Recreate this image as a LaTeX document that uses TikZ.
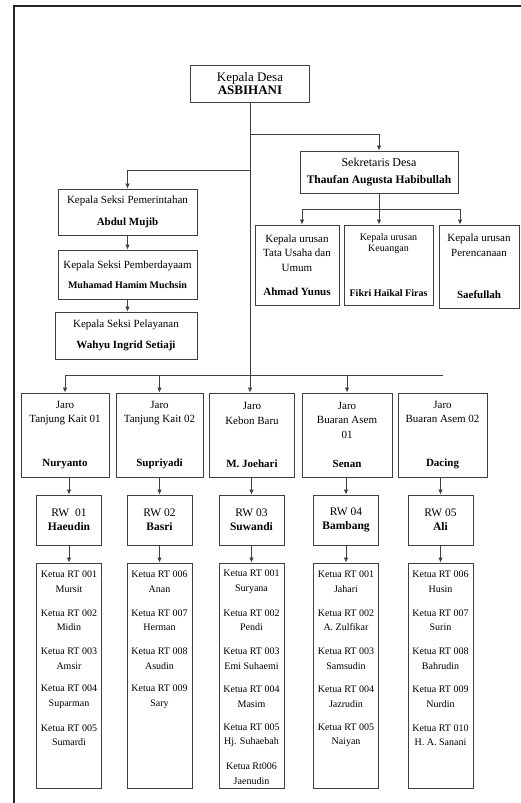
\documentclass[tikz,border=0pt]{standalone}
\usepackage{fontspec}
\setmainfont{Liberation Serif}
\usetikzlibrary{arrows.meta}
\tikzset{
  obox/.style  ={rectangle, draw=black!75, line width=0.9pt, fill=white, align=center,
                 inner sep=2pt, font=\fontsize{11}{14.5}\selectfont},
  kdbox/.style ={obox, minimum width=119pt, minimum height=37pt, font=\fontsize{13}{13.5}\selectfont},
  sdbox/.style ={obox, minimum width=158pt, minimum height=42pt, font=\fontsize{12}{17}\selectfont},
  ksbox/.style ={obox, minimum width=139pt, minimum height=46pt},
  kubox/.style ={obox, minimum height=80pt},
  jaro/.style  ={obox, minimum width=87pt, minimum height=84pt},
  rwbox/.style ={obox, minimum width=65pt, minimum height=50pt, font=\fontsize{11.5}{14}\selectfont},
  rtbox/.style ={obox, minimum width=65pt, minimum height=225pt},
  rtitem/.style={anchor=north, minimum height=38pt, inner sep=0pt, align=center,
                 font=\fontsize{10}{14.5}\selectfont},
  arr/.style   ={-{Latex[length=5pt,width=4.5pt]}, line width=0.8pt, draw=black!75},
  ln/.style    ={line width=0.8pt, draw=black!75},
}
\begin{document}
\begin{tikzpicture}[x=1pt, y=-1pt]
  \useasboundingbox (0,0) rectangle (520,803);
  \draw[line width=2.4pt, black!85] (530,6) -| (14,810);

  % pimpinan
  \node[kdbox] (kades)  at (250,83.5) {Kepala Desa\\\textbf{ASBIHANI}};
  \node[sdbox] (sekdes) at (379,172)  {Sekretaris Desa\\{\fontsize{11.5}{17}\selectfont\textbf{Thaufan Augusta Habibullah}}};

  % kepala urusan
  \node[kubox, minimum width=84pt] (ku1) at (297,265) {Kepala urusan\\Tata Usaha dan\\Umum\\[10pt]\textbf{Ahmad Yunus}};
  \node[kubox, minimum width=89pt, font=\fontsize{10}{11.5}\selectfont] (ku2) at (388.5,265) {Kepala urusan\\Keuangan\\[33pt]\textbf{Fikri Haikal Firas}};
  \node[kubox, minimum width=80pt, minimum height=83pt] (ku3) at (479,266.5) {Kepala urusan\\Perencanaan\\[28pt]\textbf{Saefullah}};

  % kepala seksi
  \node[ksbox] (seksi1) at (127.5,212) {Kepala Seksi Pemerintahan\\[7pt]\textbf{Abdul Mujib}};
  \node[ksbox, minimum height=49pt] (seksi2) at (127.5,274.5) {Kepala Seksi Pemberdayaam\\[6pt]{\fontsize{10}{14.5}\selectfont\textbf{Muhamad Hamim Muchsin}}};
  \node[ksbox, minimum width=142pt, minimum height=47pt] (seksi3) at (126,335.5) {Kepala Seksi Pelayanan\\[7pt]\textbf{Wahyu Ingrid Setiaji}};

  % jaro
  \node[jaro, minimum width=88pt] (jaro1) at (65,435)    {Jaro\\Tanjung Kait 01\\[29pt]\textbf{Nuryanto}};
  \node[jaro]                     (jaro2) at (159.5,435) {Jaro\\Tanjung Kait 02\\[29pt]\textbf{Supriyadi}};
  \node[jaro, minimum width=85pt] (jaro3) at (252,435)   {Jaro\\Kebon Baru\\[29pt]\textbf{M. Joehari}};
  \node[jaro, minimum width=90pt] (jaro4) at (347,435)   {Jaro\\Buaran Asem\\01\\[15pt]\textbf{Senan}};
  \node[jaro, minimum width=89pt] (jaro5) at (442.5,435) {Jaro\\Buaran Asem 02\\[29pt]\textbf{Dacing}};

  % rw
  \node[rwbox] (rw1) at (69,520)    {RW~~01\\\textbf{Haeudin}};
  \node[rwbox] (rw2) at (159.5,520) {RW 02\\\textbf{Basri}};
  \node[rwbox] (rw3) at (251.5,520) {RW 03\\\textbf{Suwandi}};
  \node[rwbox] (rw4) at (346,520)   {RW 04\\\textbf{Bambang}};
  \node[rwbox] (rw5) at (440.5,520) {RW 05\\\textbf{Ali}};

  % rt
  \node[rtbox] (rt1) at (69,675.5)    {};
  \node[rtbox] (rt2) at (159.5,675.5) {};
  \node[rtbox] (rt3) at (251.5,675.5) {};
  \node[rtbox] (rt4) at (346,675.5)   {};
  \node[rtbox] (rt5) at (440.5,675.5) {};

  \node[rtitem] (rt1a) at (rt1.north)  {Ketua RT 001\\Mursit};
  \node[rtitem] (rt1b) at (rt1a.south) {Ketua RT 002\\Midin};
  \node[rtitem] (rt1c) at (rt1b.south) {Ketua RT 003\\Amsir};
  \node[rtitem] (rt1d) at (rt1c.south) {Ketua RT 004\\Suparman};
  \node[rtitem] (rt1e) at (rt1d.south) {Ketua RT 005\\Sumardi};

  \node[rtitem] (rt2a) at (rt2.north)  {Ketua RT 006\\Anan};
  \node[rtitem] (rt2b) at (rt2a.south) {Ketua RT 007\\Herman};
  \node[rtitem] (rt2c) at (rt2b.south) {Ketua RT 008\\Asudin};
  \node[rtitem] (rt2d) at (rt2c.south) {Ketua RT 009\\Sary};

  \node[rtitem] (rt3a) at (rt3.north)  {Ketua RT 001\\Suryana};
  \node[rtitem] (rt3b) at (rt3a.south) {Ketua RT 002\\Pendi};
  \node[rtitem] (rt3c) at (rt3b.south) {Ketua RT 003\\Emi Suhaemi};
  \node[rtitem] (rt3d) at (rt3c.south) {Ketua RT 004\\Masim};
  \node[rtitem] (rt3e) at (rt3d.south) {Ketua RT 005\\Hj. Suhaebah};
  \node[rtitem] (rt3f) at (rt3e.south) {Ketua Rt006\\Jaenudin};

  \node[rtitem] (rt4a) at (rt4.north)  {Ketua RT 001\\Jahari};
  \node[rtitem] (rt4b) at (rt4a.south) {Ketua RT 002\\A. Zulfikar};
  \node[rtitem] (rt4c) at (rt4b.south) {Ketua RT 003\\Samsudin};
  \node[rtitem] (rt4d) at (rt4c.south) {Ketua RT 004\\Jazrudin};
  \node[rtitem] (rt4e) at (rt4d.south) {Ketua RT 005\\Naiyan};

  \node[rtitem] (rt5a) at (rt5.north)  {Ketua RT 006\\Husin};
  \node[rtitem] (rt5b) at (rt5a.south) {Ketua RT 007\\Surin};
  \node[rtitem] (rt5c) at (rt5b.south) {Ketua RT 008\\Bahrudin};
  \node[rtitem] (rt5d) at (rt5c.south) {Ketua RT 009\\Nurdin};
  \node[rtitem] (rt5e) at (rt5d.south) {Ketua RT 010\\H. A. Sanani};

  % garis
  \draw[arr] (kades.south) -- (kades.south |- jaro3.north);
  \draw[arr] (kades.south) ++(0,32) -| (sekdes.north);
  \draw[arr] (kades.south) ++(0,68) -| (seksi1.north);
  \draw[arr] (seksi1.south) -- (seksi1.south |- seksi2.north);
  \draw[arr] (seksi2.south) -- (seksi2.south |- seksi3.north);

  \draw[arr] (sekdes.south) -- (sekdes.south |- ku2.north);
  \path (sekdes.south) ++(0,16) coordinate (sekbus);
  \draw[arr] (sekbus) -| ([xshift=5pt]ku1.north);
  \draw[arr] (sekbus) -| ([xshift=-19pt]ku3.north);

  \path (kades.south |- jaro3.north) ++(0,-17) coordinate (bus);
  \draw[arr] (bus) -| (jaro1.north);
  \draw[arr] (bus) -| (jaro2.north);
  \draw[arr] (bus) -| (jaro4.north);
  \draw[ln]  (bus) -- (bus -| jaro5.north);

  \draw[arr] (rw1.north |- jaro1.south) -- (rw1.north);
  \draw[arr] (rw2.north |- jaro2.south) -- (rw2.north);
  \draw[arr] (rw3.north |- jaro3.south) -- (rw3.north);
  \draw[arr] (rw4.north |- jaro4.south) -- (rw4.north);
  \draw[arr] (rw5.north |- jaro5.south) -- (rw5.north);

  \draw[arr] (rw1.south) -- (rt1.north);
  \draw[arr] (rw2.south) -- (rt2.north);
  \draw[arr] (rw3.south) -- (rt3.north);
  \draw[arr] (rw4.south) -- (rt4.north);
  \draw[arr] (rw5.south) -- (rt5.north);
\end{tikzpicture}
\end{document}
